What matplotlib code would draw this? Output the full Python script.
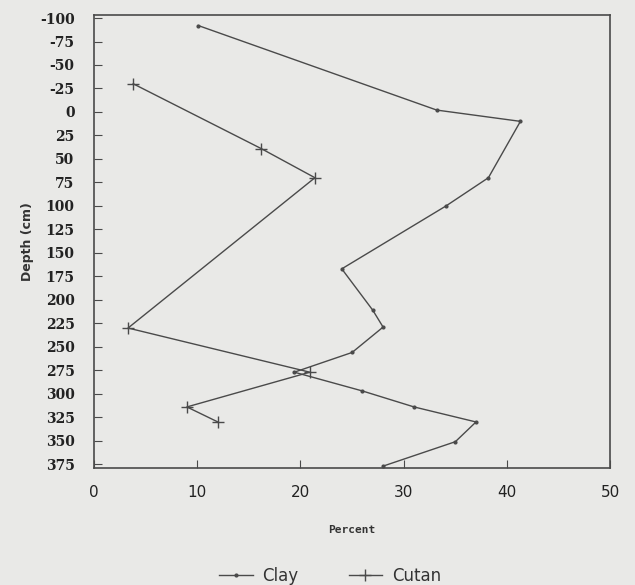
import matplotlib
matplotlib.use('Agg')
from matplotlib import pyplot as plt

plt.rcParams['axes.unicode_minus'] = False

# clay profile (percent vs depth in cm)
clay_pct = [10.1, 33.2, 41.3, 38.2, 34.1, 24.0, 27.0, 28.0, 25.0, 19.4, 26.0, 31.0, 37.0, 35.0, 28.0]
clay_depth = [-92, -2, 10, 70, 100, 167, 211, 229, 256, 277, 297, 314, 330, 351, 377]

# cutan profile
cutan_pct = [3.8, 16.2, 21.4, 3.3, 20.9, 9.0, 12.0]
cutan_depth = [-30, 39, 70, 230, 277, 314, 330]

xticks = [0, 10, 20, 30, 40, 50]
yticks = list(range(-100, 376, 25))

bg = '#e9e9e7'
ink = '#4a4a4a'

fig = plt.figure(figsize=(6.35, 5.85), dpi=100, facecolor=bg)
ax = fig.add_axes([0.148, 0.2, 0.813, 0.774])
ax.set_facecolor(bg)

ax.plot(clay_pct, clay_depth, color=ink, linewidth=1.0, marker='.',
        markersize=4, label='Clay')
ax.plot(cutan_pct, cutan_depth, color=ink, linewidth=1.0, marker='+',
        markersize=9, markeredgewidth=1.0, label='Cutan')

ax.set_xlim(0, 50)
ax.set_ylim(379, -103)
ax.set_xticks(xticks)
ax.set_yticks(yticks)

for s in ax.spines.values():
    s.set_color(ink)
    s.set_linewidth(1.2)

ax.tick_params(direction='in', length=6, color=ink, labelcolor='#222222')
ax.tick_params(axis='x', pad=12)
ax.tick_params(axis='y', pad=14)
for lab in ax.get_yticklabels():
    lab.set_family('DejaVu Serif')
    lab.set_fontsize(10)
    lab.set_fontweight('bold')
for lab in ax.get_xticklabels():
    lab.set_family('DejaVu Sans')
    lab.set_fontsize(11)

ax.set_xlabel('Percent', fontsize=8, fontweight='bold', family='DejaVu Sans Mono',
              color='#333333', labelpad=18)
ax.set_ylabel('Depth (cm)', fontsize=9, fontweight='bold', color='#333333', labelpad=4)

leg = fig.legend(loc='lower center', bbox_to_anchor=(0.52, -0.025), ncol=2,
                 frameon=False, fontsize=12, handlelength=2.0, columnspacing=3.0,
                 handletextpad=0.6)
for t in leg.get_texts():
    t.set_color('#333333')

fig.savefig('out.png', dpi=100, facecolor=bg)
